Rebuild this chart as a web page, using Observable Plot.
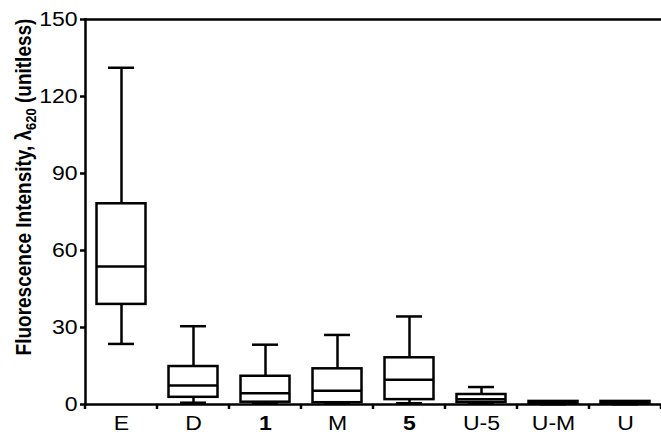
<!DOCTYPE html>
<html>
<head>
<meta charset="utf-8">
<script src="https://cdn.jsdelivr.net/npm/d3@7"></script>
<script src="https://cdn.jsdelivr.net/npm/@observablehq/plot@0.6"></script>
<style>
  html, body { margin: 0; padding: 0; background: #fff; }
  svg { display: block; }
</style>
</head>
<body>
<div id="chart"></div>
<script>
const categories  = ["E", "D", "1", "M", "5", "U-5", "U-M", "U"];
const boldLabels  = ["1", "5"];
const whiskerLow  = [23.6, 0.7, 0.3, 0.3, 0.5, 0.3, 0.1, 0.1];
const q1          = [39.0, 2.8, 0.9, 0.7, 1.9, 0.8, 0.2, 0.2];
const median      = [53.8, 7.4, 4.4, 5.4, 9.6, 2.0, 0.5, 0.5];
const q3          = [78.2, 14.8, 11.0, 13.9, 18.2, 3.9, 1.2, 1.2];
const whiskerHigh = [131.2, 30.5, 23.3, 27.1, 34.3, 6.8, 1.2, 1.2];
const yTicks      = [0, 30, 60, 90, 120, 150];

const data = categories.map((c, i) => ({
  cat: c, lo: whiskerLow[i], q1: q1[i], med: median[i], q3: q3[i], hi: whiskerHigh[i]
}));

const font = "'Liberation Sans', Arial, Helvetica, sans-serif";
const sw = 2.5;
const stretch = 1.15;

const chart = Plot.plot({
  width: 661,
  height: 436,
  marginLeft: 85,
  marginRight: 0,
  marginTop: 19,
  marginBottom: 32,
  style: { fontFamily: font, fontSize: "20px", color: "#000", background: "#fff" },
  x: { domain: categories, padding: 0, label: null },
  y: { domain: [0, 150], label: null },
  marks: [
    Plot.ruleX(data, { x: "cat", y1: "lo", y2: "q1", stroke: "#000", strokeWidth: sw }),
    Plot.ruleX(data, { x: "cat", y1: "q3", y2: "hi", stroke: "#000", strokeWidth: sw }),
    Plot.tickY(data, { x: "cat", y: "hi", stroke: "#000", strokeWidth: sw, insetLeft: 23, insetRight: 23 }),
    Plot.tickY(data, { x: "cat", y: "lo", stroke: "#000", strokeWidth: sw, insetLeft: 23, insetRight: 23 }),
    Plot.barY(data, { x: "cat", y1: "q1", y2: "q3", fill: "#fff", stroke: "#000", strokeWidth: sw, insetLeft: 11.5, insetRight: 11.5 }),
    Plot.tickY(data, { x: "cat", y: "med", stroke: "#000", strokeWidth: sw, insetLeft: 11.5, insetRight: 11.5 }),
    Plot.frame({ anchor: "right", stroke: "#999", strokeWidth: 1 }),
    Plot.frame({ anchor: "top", stroke: "#000", strokeWidth: 2.5 }),
    Plot.frame({ anchor: "left", stroke: "#000", strokeWidth: 2.5 }),
    Plot.frame({ anchor: "bottom", stroke: "#000", strokeWidth: 2.5 }),
    Plot.axisY({ ticks: yTicks, tickSize: 5, tickPadding: 3, strokeWidth: 2.5, label: null }),
    Plot.axisX({ tickSize: 0, tickPadding: 11, label: null })
  ]
});

document.getElementById("chart").appendChild(chart);
const svg = d3.select(chart);

// tick labels: size, bold category names, and the reference's slight horizontal stretch
svg.selectAll("text").each(function () {
  const el = d3.select(this);
  el.style("font-size", "20px");
  if (boldLabels.includes(this.textContent)) el.attr("font-weight", "bold");
  const w = this.getComputedTextLength();
  if (w > 0) el.attr("textLength", w * stretch).attr("lengthAdjust", "spacingAndGlyphs");
});

// band-boundary ticks on the x axis (from the library's x scale)
const xs = chart.scale("x");
const ys = chart.scale("y");
const [r0, r1] = xs.range;
const y0 = ys.apply(0);
const g = svg.append("g").attr("stroke", "#000").attr("stroke-width", 2.5);
for (let i = 0; i <= categories.length; i++) {
  const xb = r0 + i * (r1 - r0) / categories.length;
  g.append("line").attr("x1", xb).attr("x2", xb).attr("y1", y0).attr("y2", y0 + 5);
}

// y axis title with subscript
const t = svg.append("text")
  .attr("transform", `translate(31,187) rotate(-90) scale(1,${stretch + 0.03})`)
  .attr("text-anchor", "middle")
  .attr("font-family", font)
  .attr("font-weight", "bold")
  .style("font-size", "19px")
  .attr("fill", "#000");
t.append("tspan").text("Fluorescence Intensity, λ");
t.append("tspan").style("font-size", "13px").attr("dy", 4).text("620");
t.append("tspan").attr("dy", -4).text(" (unitless)");
</script>
</body>
</html>
